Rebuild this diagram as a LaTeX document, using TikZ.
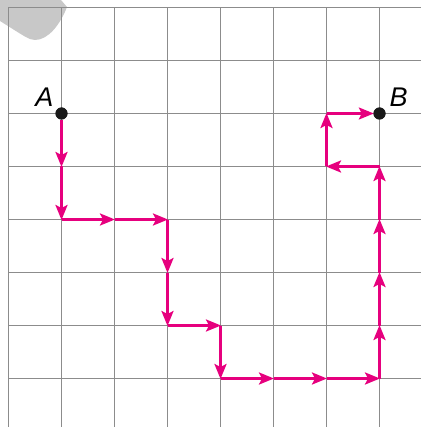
\documentclass[tikz,border=0pt]{standalone}
\usepackage{fontspec}
\setmainfont{Liberation Sans}
\usetikzlibrary{arrows.meta}
\definecolor{mag}{HTML}{E6007E}
\definecolor{gridgray}{HTML}{8C8C8C}
\definecolor{blob}{HTML}{C8C8C8}
\tikzset{
  gridline/.style={draw=gridgray, line width=1.3pt},
  stepline/.style={draw=mag, line width=2.6pt, -{Stealth[length=15pt,width=12pt,inset=3pt]}, shorten >=-0.5pt},
  dotnode/.style={circle, fill=black!90, inner sep=0pt, minimum size=12pt},
  lbl/.style={inner sep=0pt, font=\fontsize{27}{30}\selectfont\itshape}
}
\begin{document}
\begin{tikzpicture}[x=1pt,y=-1pt]
\useasboundingbox (0,0) rectangle (421,427);
% page corner shadow
\fill[blob] (0,0) -- (61,0) -- (67,7) .. controls (60,25) and (48,40) .. (35,40) .. controls (29,40) and (24,36) .. (0,21) -- cycle;
% grid
\foreach \i in {0,...,7} {
  \draw[gridline] ({8.5+53*\i},7.5) -- ({8.5+53*\i},427);
  \draw[gridline] (8.5,{7.5+53*\i}) -- (421,{7.5+53*\i});
}
% grid points
\foreach \i in {0,...,7} {
  \foreach \j in {0,...,7} {
    \coordinate (p\i\j) at ({8.5+53*\i},{7.5+53*\j});
  }
}
% endpoints
\node[dotnode] (A) at (p12) {};
\node[dotnode] (B) at (p72) {};
\node[lbl] (la) at (44.5,97.5) {A};
\node[lbl] (lb) at (398.5,97.5) {B};
% path
\draw[stepline] (A) -- (p13);
\draw[stepline] (p13) -- (p14);
\draw[stepline] (p14) -- (p24);
\draw[stepline] (p24) -- (p34);
\draw[stepline] (p34) -- (p35);
\draw[stepline] (p35) -- (p36);
\draw[stepline] (p36) -- (p46);
\draw[stepline] (p46) -- (p47);
\draw[stepline] (p47) -- (p57);
\draw[stepline] (p57) -- (p67);
\draw[stepline] (p67) -- (p77);
\draw[stepline] (p77) -- (p76);
\draw[stepline] (p76) -- (p75);
\draw[stepline] (p75) -- (p74);
\draw[stepline] (p74) -- (p73);
\draw[stepline] (p73) -- (p63);
\draw[stepline] (p63) -- (p62);
\draw[stepline] (p62) -- (B);
\node[dotnode] at (A) {};
\node[dotnode] at (B) {};
\end{tikzpicture}
\end{document}
